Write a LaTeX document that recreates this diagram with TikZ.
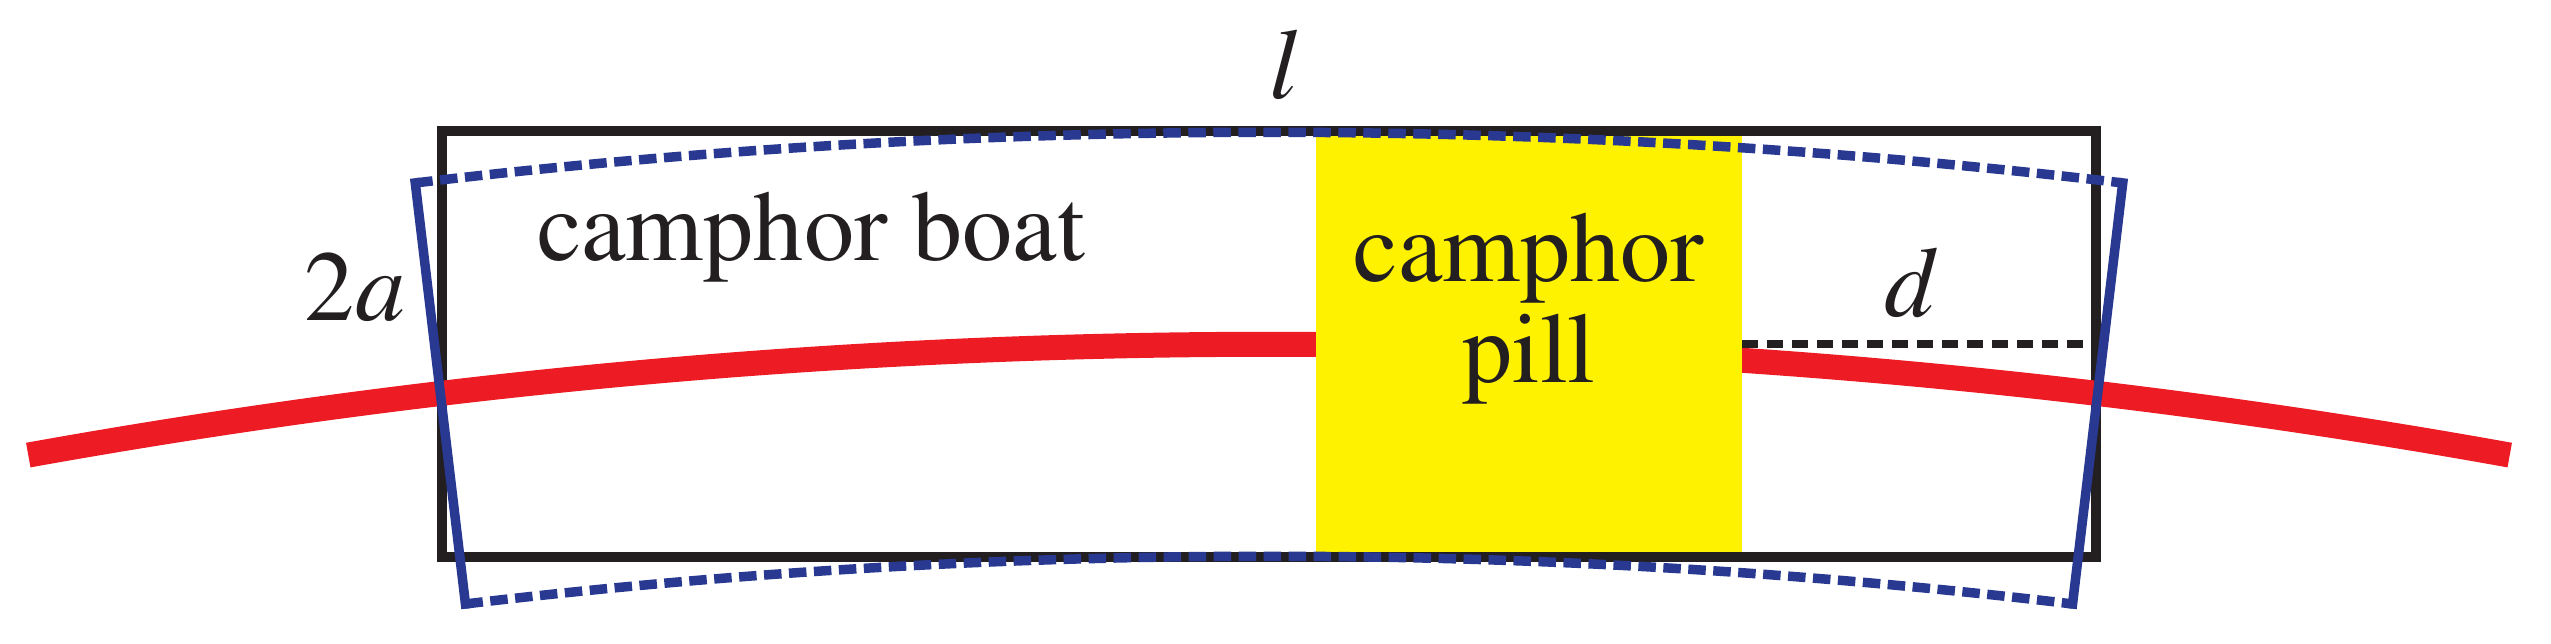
\documentclass[tikz,border=0pt]{standalone}
\usepackage[T1]{fontenc}
\usepackage{mathptmx}
\usetikzlibrary{calc}
\definecolor{boatred}{RGB}{237,28,36}
\definecolor{pillyellow}{RGB}{255,242,0}
\definecolor{bentblue}{RGB}{41,57,145}
\definecolor{inkblack}{RGB}{35,31,32}

\begin{document}
\begin{tikzpicture}[
        boat/.style={rectangle,draw=inkblack,line width=1mm,inner sep=0pt,outer sep=0pt,minimum width=16.54cm,minimum height=4.255cm},
        pill/.style={rectangle,fill=pillyellow,inner sep=0pt,outer sep=0pt,minimum width=4.26cm,minimum height=4.155cm},
        track/.style={draw=boatred,line width=2.5mm},
        bentside/.style={draw=bentblue,line width=0.95mm,line cap=rect},
        bentdash/.style={draw=bentblue,line width=0.95mm,dash pattern=on 1.75mm off 0.75mm},
        dgap/.style={draw=inkblack,line width=0.85mm,dash pattern=on 1.6mm off 0.9mm},
        txt/.style={font=\fontsize{28.5}{28.5}\selectfont,text=inkblack,inner sep=0pt,anchor=base}
    ]

    \useasboundingbox (0,0) rectangle (25.51,6.43);

    \coordinate (C) at (12.69,-67.01);

    \node[boat] (boat) at (12.69,2.99) {};

    \draw[track] ($(C)+(100.21:70)$) arc[start angle=100.21,end angle=79.79,radius=70];

    \node[pill] (pill) at (15.29,2.99) {};

    \draw[bentside] ($(C)+(96.8:72.12)$) -- ($(C)+(96.8:67.88)$);
    \draw[bentside] ($(C)+(83.2:72.12)$) -- ($(C)+(83.2:67.88)$);
    \draw[bentdash] ($(C)+(96.8:72.12)$) arc[start angle=96.8,end angle=83.2,radius=72.12];
    \draw[bentdash] ($(C)+(96.8:67.88)$) arc[start angle=96.8,end angle=83.2,radius=67.88];

    \draw[dgap] (pill.east) -- (boat.east);

    \node[txt] (len) at (12.86,5.44) {$l$};
    \node[txt] (width) at (3.55,3.23) {$2a$};
    \node[txt] (boatname) at (8.11,3.83) {camphor boat};
    \node[txt,align=center] (pillname) at (15.29,2.61) {camphor\\pill};
    \node[txt] (dist) at (19.12,3.27) {$d$};

\end{tikzpicture}
\end{document}
